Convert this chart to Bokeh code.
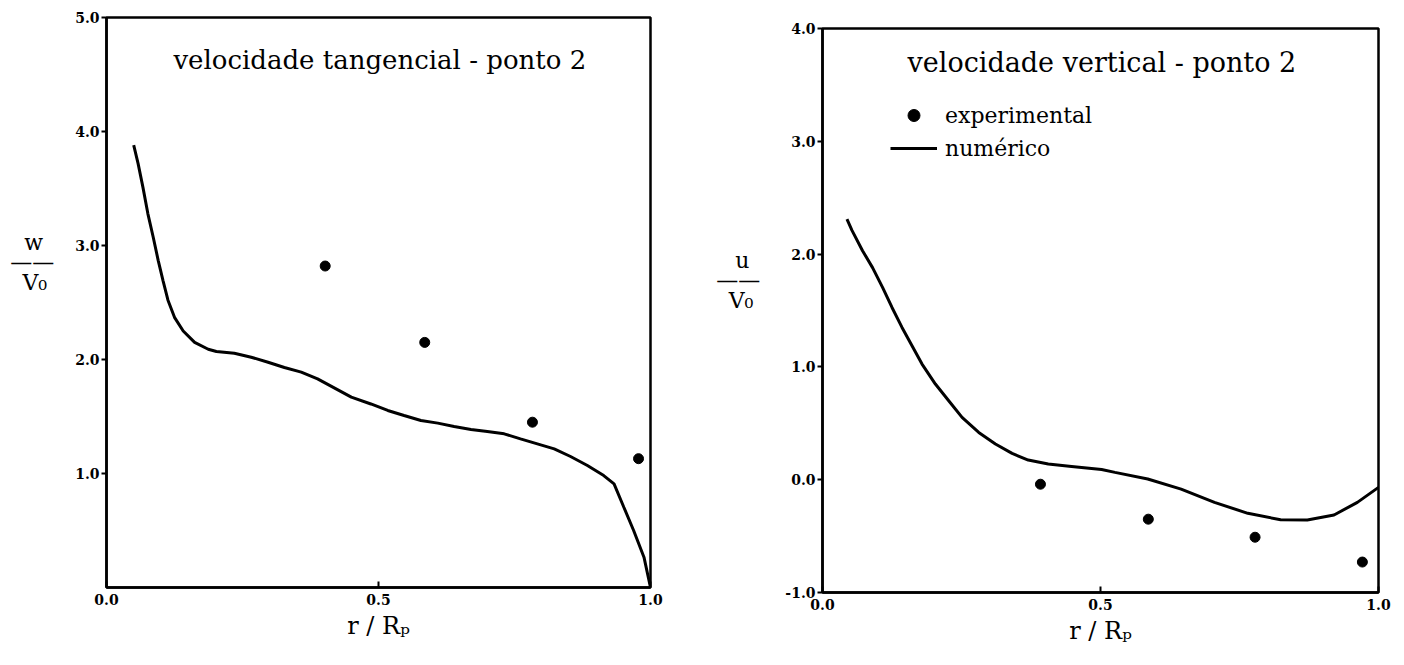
from bokeh.plotting import figure
from bokeh.layouts import row, column
from bokeh.models import (Range1d, FixedTicker, NumeralTickFormatter, Label,
                          Legend, LegendItem, Spacer)
from bokeh.embed import file_html
from bokeh.resources import INLINE

# ---------------- data ----------------
# Left panel: tangential velocity, point 2 (numerical curve)
tang_num_r = [0.050, 0.058, 0.067, 0.076, 0.086, 0.095, 0.104, 0.113, 0.125,
              0.141, 0.162, 0.187, 0.202, 0.235, 0.266, 0.297, 0.327, 0.358,
              0.388, 0.450, 0.486, 0.517, 0.547, 0.578, 0.609, 0.639, 0.670,
              0.700, 0.731, 0.761, 0.792, 0.823, 0.853, 0.884, 0.914, 0.933,
              0.951, 0.969, 0.988, 1.000]
tang_num_w = [3.88, 3.72, 3.51, 3.28, 3.07, 2.87, 2.69, 2.52, 2.37,
              2.25, 2.15, 2.09, 2.07, 2.055, 2.02, 1.976, 1.93, 1.889,
              1.83, 1.67, 1.61, 1.553, 1.509, 1.465, 1.442, 1.412, 1.386,
              1.368, 1.348, 1.304, 1.26, 1.216, 1.149, 1.07, 0.982, 0.909,
              0.704, 0.50, 0.266, 0.0]
# experimental points
tang_exp_r = [0.402, 0.585, 0.783, 0.978]
tang_exp_w = [2.82, 2.15, 1.45, 1.13]

# Right panel: vertical velocity, point 2 (numerical curve)
vert_num_r = [0.044, 0.053, 0.072, 0.090, 0.108, 0.125, 0.143, 0.161, 0.179,
              0.203, 0.227, 0.251, 0.281, 0.311, 0.341, 0.370, 0.406, 0.448,
              0.502, 0.526, 0.585, 0.645, 0.705, 0.765, 0.824, 0.872, 0.920,
              0.962, 1.000]
vert_num_u = [2.31, 2.21, 2.03, 1.88, 1.705, 1.527, 1.35, 1.188, 1.025,
              0.848, 0.70, 0.552, 0.419, 0.316, 0.233, 0.174, 0.139, 0.118,
              0.091, 0.065, 0.006, -0.083, -0.201, -0.298, -0.355, -0.358, -0.313,
              -0.201, -0.068]
# experimental points
vert_exp_r = [0.392, 0.586, 0.778, 0.971]
vert_exp_u = [-0.04, -0.35, -0.51, -0.73]

x_ticks = [0.0, 0.5, 1.0]
left_y_ticks = [1, 2, 3, 4, 5]
right_y_ticks = [-1, 0, 1, 2, 3, 4]

title_left = "velocidade tangencial - ponto 2"
title_right = "velocidade vertical - ponto 2"
xlabel = "r / R\u209a"
NB = "\u00a0"
EN = "\u2002"
ylabel_left = "w" + EN + "\n\u2014\u2014\nV\u2080" + NB + ("\n" + NB) * 4
ylabel_right = "u" + EN + "\n\u2014\u2014\nV\u2080" + NB + ("\n" + NB) * 3
legend_labels = ["experimental", "num\u00e9rico"]

SERIF = "DejaVu Serif"


def style(p, yticks):
    p.grid.visible = False
    p.outline_line_color = "black"
    p.outline_line_width = 2.5
    p.background_fill_color = "white"
    p.border_fill_color = "white"
    for ax in (p.xaxis[0], p.yaxis[0]):
        ax.axis_line_color = "black"
        ax.axis_line_width = 2.5
        ax.major_tick_line_color = "black"
        ax.major_tick_line_width = 2
        ax.minor_tick_line_color = None
        ax.major_label_text_font = SERIF
        ax.major_label_text_font_size = "14px"
        ax.major_label_text_font_style = "bold"
        ax.major_label_text_color = "black"
        ax.axis_label_text_font = SERIF
        ax.axis_label_text_font_style = "normal"
        ax.axis_label_text_color = "black"
        ax.formatter = NumeralTickFormatter(format="0.0")
    xa = p.xaxis[0]
    xa.ticker = FixedTicker(ticks=x_ticks)
    xa.major_tick_in = 6
    xa.major_tick_out = 0
    xa.major_label_standoff = 6
    xa.axis_label = xlabel
    xa.axis_label_text_font_size = "24px"
    xa.axis_label_standoff = 4
    ya = p.yaxis[0]
    ya.ticker = FixedTicker(ticks=yticks)
    ya.major_tick_in = 0
    ya.major_tick_out = 5
    ya.major_label_standoff = 2
    ya.axis_label_orientation = "horizontal"
    ya.axis_label_text_font_size = "22px"
    ya.axis_label_text_line_height = 0.8


# ---------------- left panel ----------------
p1 = figure(width=700, height=660, output_backend="svg", toolbar_location=None,
            x_range=Range1d(0, 1), y_range=Range1d(0, 5),
            min_border_left=106, min_border_right=50,
            min_border_top=17, min_border_bottom=73)
style(p1, left_y_ticks)
p1.yaxis[0].axis_label = ylabel_left
p1.yaxis[0].axis_label_standoff = 18
p1.line(tang_num_r, tang_num_w, line_color="black", line_width=3)
p1.scatter(tang_exp_r, tang_exp_w, size=10, marker="circle",
           fill_color="black", line_color="black")
p1.add_layout(Label(x=0.123, y=4.63, text=title_left, text_font=SERIF,
                    text_font_size="26px", text_color="black",
                    text_baseline="alphabetic"))

# ---------------- right panel ----------------
p2 = figure(width=704, height=649, output_backend="svg", toolbar_location=None,
            x_range=Range1d(0, 1), y_range=Range1d(-1, 4),
            min_border_left=122, min_border_right=26,
            min_border_top=17, min_border_bottom=68)
style(p2, right_y_ticks)
p2.yaxis[0].axis_label = ylabel_right
p2.yaxis[0].axis_label_standoff = 22
ln = p2.line(vert_num_r, vert_num_u, line_color="black", line_width=3)
sc = p2.scatter(vert_exp_r, vert_exp_u, size=10, marker="circle",
                fill_color="black", line_color="black")
p2.add_layout(Label(x=0.153, y=3.70, text=title_right, text_font=SERIF,
                    text_font_size="27px", text_color="black",
                    text_baseline="alphabetic"))

legend = Legend(items=[LegendItem(label=legend_labels[0], renderers=[sc]),
                       LegendItem(label=legend_labels[1], renderers=[ln])],
                location=(68, 429), padding=0, margin=0, spacing=3,
                glyph_width=47, glyph_height=30, label_height=30,
                label_standoff=8, label_text_font=SERIF,
                label_text_font_size="22px", label_text_color="black",
                border_line_color=None, background_fill_alpha=0)
p2.add_layout(legend)

layout = row(p1, column(Spacer(width=704, height=11), p2, spacing=0), spacing=0)
open("out.html", "w").write(file_html(layout, INLINE))
